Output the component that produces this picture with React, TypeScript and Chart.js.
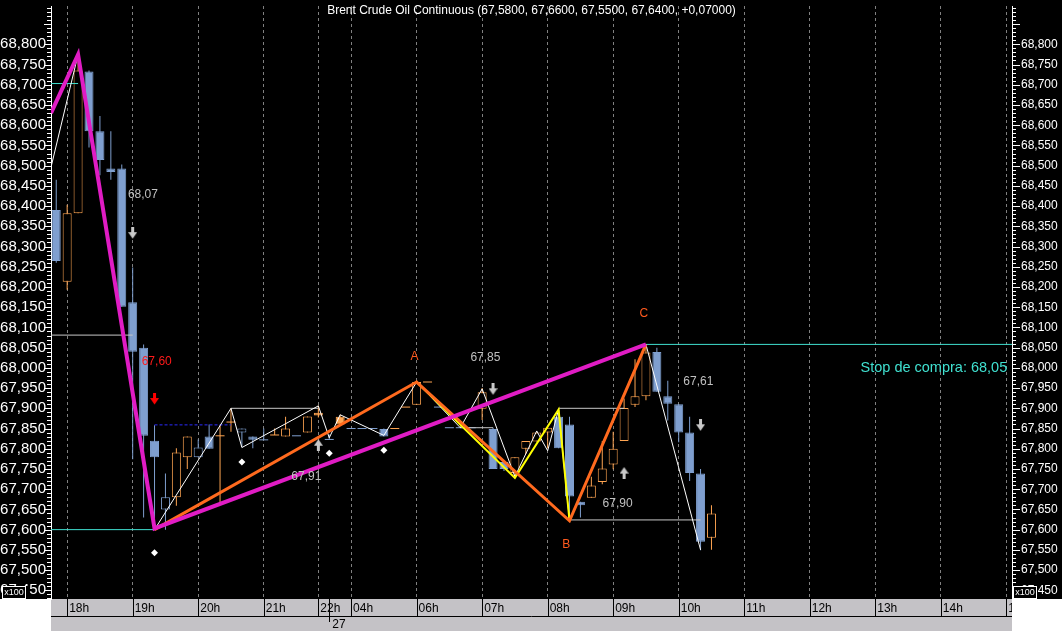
import React, { useEffect, useRef } from 'react';
import { Chart, registerables } from 'chart.js';

Chart.register(...registerables);

const SYMBOL = 'Brent Crude Oil Continuous';
const FONT = 'Liberation Sans';

// 10-minute bars, x = bar slot index
const opens = [68.39, 68.213, 68.382, 68.733, 68.585, 68.493, 68.493, 68.162, 68.05, 67.82,
  67.65, 67.68, 67.779, 67.779, 67.83, 67.832, 67.866, 67.84, 67.83, 67.822,
  67.834, 67.83, 67.832, 67.84, 67.889, 67.823, 67.879, 67.85, 67.85, 67.85,
  67.849, 67.85, 67.903, 67.909, 67.965, 67.903, 67.852, 67.852, 67.852, 67.899,
  67.849, 67.767, 67.74, 67.8, 67.818, 67.84, 67.879, 67.86, 67.669, 67.679,
  67.718, 67.761, 67.819, 67.909, 67.93, 68.039, 67.93, 67.91, 67.84, 67.739, 67.58];
const highs = [68.465, 68.403, 68.775, 68.735, 68.623, 68.585, 68.503, 68.248, 68.058, 67.858,
  67.739, 67.801, 67.83, 67.823, 67.86, 67.858, 67.9, 67.85, 67.83, 67.85,
  67.85, 67.879, 67.832, 67.88, 67.907, 67.835, 67.884, 67.85, 67.85, 67.85,
  67.85, 67.85, 67.903, 67.969, 67.965, 67.903, 67.852, 67.852, 67.852, 67.95,
  67.852, 67.767, 67.779, 67.819, 67.84, 67.852, 67.897, 67.879, 67.669, 67.731,
  67.819, 67.842, 67.924, 68.021, 68.058, 68.05, 67.968, 67.91, 67.879, 67.75, 67.66];
const lows = [68.26, 68.193, 68.382, 68.545, 68.476, 68.465, 68.151, 67.774, 67.63, 67.6,
  67.6, 67.659, 67.75, 67.779, 67.8, 67.665, 67.842, 67.805, 67.801, 67.822,
  67.834, 67.83, 67.832, 67.84, 67.877, 67.823, 67.858, 67.85, 67.85, 67.85,
  67.83, 67.85, 67.903, 67.909, 67.965, 67.903, 67.852, 67.852, 67.852, 67.871,
  67.75, 67.745, 67.73, 67.787, 67.818, 67.801, 67.801, 67.622, 67.63, 67.679,
  67.712, 67.749, 67.819, 67.903, 67.92, 67.941, 67.87, 67.816, 67.72, 67.549, 67.55];
const closes = [68.264, 68.382, 68.735, 68.585, 68.514, 68.484, 68.151, 68.04, 67.832, 67.779,
  67.68, 67.791, 67.83, 67.803, 67.8, 67.832, 67.866, 67.85, 67.822, 67.822,
  67.834, 67.85, 67.832, 67.88, 67.882, 67.823, 67.86, 67.85, 67.85, 67.85,
  67.83, 67.85, 67.903, 67.965, 67.965, 67.903, 67.852, 67.852, 67.852, 67.94,
  67.75, 67.75, 67.779, 67.819, 67.84, 67.852, 67.801, 67.682, 67.66, 67.709,
  67.751, 67.8, 67.901, 67.93, 68.038, 67.941, 67.911, 67.84, 67.74, 67.57, 67.64];

const X_MIN = -0.48;
const X_MAX = 87.52;
const Y_MIN = 67.4285;
const Y_MAX = 68.8947;

const hourTickPos = [1, 7, 13, 19, 24, 27, 33, 39, 45, 51, 57, 63, 69, 75, 81, 87];
const hourTickLabels = ['18h', '19h', '20h', '21h', '22h', '04h', '06h', '07h', '08h', '09h', '10h', '11h', '12h', '13h', '14h', '15h'];
const dayTickPos = [25];
const dayTickLabels = ['27'];

const yMajorTicks = [67.45, 67.5, 67.55, 67.6, 67.65, 67.7, 67.75, 67.8, 67.85, 67.9, 67.95, 68.0,
  68.05, 68.1, 68.15, 68.2, 68.25, 68.3, 68.35, 68.4, 68.45, 68.5, 68.55, 68.6, 68.65, 68.7, 68.75, 68.8];

// drawn studies
const magentaX = [-0.48, 2, 9, 54];
const magentaY = [68.63, 68.775, 67.603, 68.058];
const orangeX = [9, 33, 47, 54];
const orangeY = [67.6, 67.965, 67.622, 68.058];
const yellowX = [33, 42, 46, 47];
const yellowY = [67.965, 67.728, 67.897, 67.622];
const zigzagX = [-0.48, 2, 9, 16, 17, 24, 25, 26, 30, 33, 37, 39, 42, 44, 45, 46, 47, 54, 59];
const zigzagY = [68.496, 68.775, 67.6, 67.9, 67.803, 67.906, 67.827, 67.884, 67.833, 67.965, 67.852, 67.948, 67.731, 67.844, 67.795, 67.897, 67.622, 68.058, 67.55];

const grayLevelY = [68.081, 67.9, 67.852, 67.9, 67.624];
const grayLevelFrom = [-0.48, 16, 37, 46, 47];
const grayLevelTo = [7, 24, 40, 52, 59];
const cyanLevelY = [68.703, 67.6, 68.058];
const cyanLevelFrom = [-0.48, -0.48, 54];
const cyanLevelTo = [2, 9, 87.52];
const dashedLevelY = [67.859];
const dashedLevelFrom = [9];
const dashedLevelTo = [16];

const dotX = [9, 17, 25, 30];
const dotY = [67.543, 67.767, 67.789, 67.796];
const downArrowX = [7, 40, 59];
const downArrowY = [68.333, 67.947, 67.858];
const upArrowX = [24, 52];
const upArrowY = [67.81, 67.741];
const stopArrowX = [9];
const stopArrowY = [67.923];

const noteTexts = ['68,07', '67,91', '67,85', '67,90', '67,61'];
const noteX = [7.94, 22.9, 39.3, 51.4, 58.8];
const noteY = [68.427, 67.73, 68.024, 67.664, 67.967];
const stopNoteTexts = ['67,60'];
const stopNoteX = [9.2];
const stopNoteY = [68.015];
const waveTexts = ['A', 'B', 'C'];
const waveX = [32.8, 46.7, 53.8];
const waveY = [68.028, 67.563, 68.133];
const stopBuyText = ['Stop de compra: 68,05'];
const stopBuyX = [73.65];
const stopBuyY = [67.999];

const ORANGE = '#ffa552';
const BLUE = '#7f9fcf';

function fmt(v: number, d: number) {
  return v.toFixed(d).replace('.', ',');
}

function makeArrow(color: string, up: boolean) {
  const c = document.createElement('canvas');
  c.width = 9;
  c.height = 12;
  const g = c.getContext('2d')!;
  g.fillStyle = color;
  g.beginPath();
  if (!up) {
    g.fillRect(3, 0, 3, 6);
    g.moveTo(0, 5); g.lineTo(9, 5); g.lineTo(4.5, 11.5);
  } else {
    g.fillRect(3, 6, 3, 6);
    g.moveTo(0, 7); g.lineTo(9, 7); g.lineTo(4.5, 0.5);
  }
  g.closePath();
  g.fill();
  return c;
}

function seg(xs: number[], ys: number[]) {
  return xs.map((x, i) => ({ x, y: ys[i] }));
}

export default function App() {
  const ref = useRef<HTMLCanvasElement>(null);

  useEffect(() => {
    document.body.style.margin = '0';
    const canvas = ref.current!;
    const n = closes.length;
    const colors: string[] = [];
    for (let i = 0; i < n; i++) {
      let up: boolean;
      if (i === 0) up = closes[i] >= opens[i];
      else if (closes[i] > closes[i - 1]) up = true;
      else if (closes[i] < closes[i - 1]) up = false;
      else up = colors[i - 1] === ORANGE;
      colors.push(up ? ORANGE : BLUE);
    }
    const idx = closes.map((_, i) => i);
    const bodyIdx = idx.filter((i) => opens[i] !== closes[i]);
    const dojiIdx = idx.filter((i) => opens[i] === closes[i]);

    const levelSets = (ys: number[], from: number[], to: number[], color: string, order: number, dash: number[] = []) =>
      ys.map((y, i) => ({
        type: 'line' as const,
        data: [{ x: from[i], y }, { x: to[i], y }],
        borderColor: color,
        borderWidth: 1,
        borderDash: dash,
        pointRadius: 0,
        order,
      }));

    const arrowDown = makeArrow('#c8c8c8', false);
    const arrowUp = makeArrow('#c8c8c8', true);
    const arrowRed = makeArrow('#ff0000', false);

    const decorPlugin = {
      id: 'decor',
      beforeDraw(chart: any) {
        const { ctx, chartArea: a, width, height } = chart;
        ctx.save();
        ctx.fillStyle = '#000';
        ctx.fillRect(0, 0, width, a.bottom);
        ctx.fillStyle = '#fff';
        ctx.fillRect(0, a.bottom, width, height - a.bottom);
        ctx.fillStyle = '#c4c2c6';
        ctx.fillRect(a.left, a.bottom, a.right - a.left, height - a.bottom);
        ctx.restore();
      },
      afterDatasetsDraw(chart: any) {
        const { ctx } = chart;
        const xs = chart.scales.x;
        const ys = chart.scales.y;
        ctx.save();
        ctx.textBaseline = 'middle';
        ctx.textAlign = 'center';
        ctx.font = `12px "${FONT}"`;
        ctx.fillStyle = '#c0c0c0';
        noteTexts.forEach((t, i) => ctx.fillText(t, xs.getPixelForValue(noteX[i]), ys.getPixelForValue(noteY[i])));
        ctx.fillStyle = '#ff1a1a';
        stopNoteTexts.forEach((t, i) => ctx.fillText(t, xs.getPixelForValue(stopNoteX[i]), ys.getPixelForValue(stopNoteY[i])));
        ctx.fillStyle = '#ff5a1e';
        waveTexts.forEach((t, i) => ctx.fillText(t, xs.getPixelForValue(waveX[i]), ys.getPixelForValue(waveY[i])));
        ctx.fillStyle = '#40e0d0';
        ctx.textAlign = 'left';
        ctx.font = `14.5px "${FONT}"`;
        stopBuyText.forEach((t, i) => ctx.fillText(t, xs.getPixelForValue(stopBuyX[i]), ys.getPixelForValue(stopBuyY[i])));
        // title
        const last = n - 1;
        const chg = closes[last] - closes[last - 1];
        const title = `${SYMBOL} (${fmt(opens[last], 4)}, ${fmt(highs[last], 4)}, ${fmt(lows[last], 4)}, ${fmt(closes[last], 4)}, ${chg >= 0 ? '+' : ''}${fmt(chg, 5)})`;
        const a = chart.chartArea;
        ctx.font = `12px "${FONT}"`;
        ctx.fillStyle = '#ffffff';
        ctx.textAlign = 'center';
        ctx.fillText(title, (a.left + a.right) / 2, 11);
        ctx.restore();
      },
      afterDraw(chart: any) {
        const { ctx, chartArea: a, width, height } = chart;
        const xs = chart.scales.x;
        const ys = chart.scales.y;
        ctx.save();
        // bottom band ticks
        ctx.strokeStyle = '#000';
        ctx.lineWidth = 1;
        ctx.beginPath();
        ctx.moveTo(a.left, 616.5);
        ctx.lineTo(a.right, 616.5);
        hourTickPos.forEach((v) => {
          const x = Math.round(xs.getPixelForValue(v)) + 0.5;
          ctx.moveTo(x, a.bottom);
          ctx.lineTo(x, 616);
        });
        dayTickPos.forEach((v) => {
          const x = Math.round(xs.getPixelForValue(v)) + 0.5;
          ctx.moveTo(x, a.bottom);
          ctx.lineTo(x, 622);
        });
        ctx.stroke();
        ctx.fillStyle = '#000';
        ctx.font = `12px "${FONT}"`;
        ctx.textBaseline = 'middle';
        ctx.textAlign = 'left';
        dayTickPos.forEach((v, i) => ctx.fillText(dayTickLabels[i], xs.getPixelForValue(v) + 3, 625));
        // white corners
        ctx.fillStyle = '#fff';
        ctx.fillRect(a.right, a.bottom, width - a.right, height - a.bottom);
        ctx.fillRect(0, a.bottom, a.left, height - a.bottom);
        // y ticks (0.01 minor, 0.05 major)
        ctx.strokeStyle = '#fff';
        ctx.beginPath();
        for (let k = 0; ; k++) {
          const v = 67.43 + k * 0.01;
          if (v > Y_MAX) break;
          const y = Math.round(ys.getPixelForValue(v)) + 0.5;
          const major = Math.round(v * 100) % 5 === 0;
          ctx.moveTo(a.left - (major ? 7 : 4), y);
          ctx.lineTo(a.left, y);
          ctx.moveTo(a.right, y);
          ctx.lineTo(a.right + (major ? 8 : 4), y);
        }
        ctx.stroke();
        // x100 boxes
        const box = (x0: number, y0: number, cover: number) => {
          ctx.fillStyle = '#000';
          ctx.fillRect(x0, y0, cover, 13);
          ctx.strokeStyle = '#fff';
          ctx.strokeRect(x0 + 0.5, y0 + 0.5, 23, 12);
          ctx.fillStyle = '#fff';
          ctx.font = `9px "${FONT}"`;
          ctx.textAlign = 'center';
          ctx.fillText('x100', x0 + 12, y0 + 7);
        };
        box(2, 586, 27);
        box(1013, 586, 25);
        ctx.restore();
      },
    };

    const chart = new Chart(canvas, {
      type: 'bar',
      data: {
        datasets: [
          {
            type: 'bar',
            data: idx.map((i) => ({ x: i, y: [lows[i], highs[i]] })) as any,
            backgroundColor: idx.map((i) => colors[i]),
            borderWidth: 0,
            barThickness: 1,
            grouped: false,
            inflateAmount: 0,
            order: 100,
          } as any,
          {
            type: 'bar',
            data: bodyIdx.map((i) => ({ x: i, y: [opens[i], closes[i]] })) as any,
            backgroundColor: bodyIdx.map((i) => (closes[i] > opens[i] ? '#000' : colors[i])),
            borderColor: bodyIdx.map((i) => colors[i]),
            borderWidth: 1,
            borderSkipped: false,
            barThickness: 9,
            grouped: false,
            inflateAmount: 0,
            order: 90,
          } as any,
          {
            type: 'scatter',
            data: dojiIdx.map((i) => ({ x: i, y: closes[i] })),
            pointStyle: 'line',
            pointRadius: 4.5,
            borderWidth: 1,
            pointBorderColor: dojiIdx.map((i) => colors[i]),
            borderColor: dojiIdx.map((i) => colors[i]),
            order: 89,
          } as any,
          ...levelSets(grayLevelY, grayLevelFrom, grayLevelTo, '#c8c8c8', 80),
          ...levelSets(dashedLevelY, dashedLevelFrom, dashedLevelTo, '#2a2aff', 79, [3, 2]),
          ...levelSets(cyanLevelY, cyanLevelFrom, cyanLevelTo, '#40e0d0', 78),
          {
            type: 'line',
            data: seg(zigzagX, zigzagY),
            borderColor: '#ffffff',
            borderWidth: 1,
            pointRadius: 0,
            tension: 0,
            order: 70,
          },
          {
            type: 'scatter',
            data: seg(dotX, dotY),
            pointStyle: 'rectRot',
            pointRadius: 3.5,
            backgroundColor: '#ffffff',
            borderWidth: 0,
            order: 69,
          } as any,
          {
            type: 'line',
            data: seg(yellowX, yellowY),
            borderColor: '#ffff00',
            borderWidth: 2,
            pointRadius: 0,
            order: 60,
          },
          {
            type: 'line',
            data: seg(orangeX, orangeY),
            borderColor: '#ff6a1e',
            borderWidth: 3,
            pointRadius: 0,
            order: 50,
          },
          {
            type: 'line',
            data: seg(magentaX, magentaY),
            borderColor: '#e01cc4',
            borderWidth: 4,
            pointRadius: 0,
            order: 40,
          },
          {
            type: 'scatter',
            data: seg(downArrowX, downArrowY),
            pointStyle: arrowDown,
            pointRadius: 5,
            order: 30,
          } as any,
          {
            type: 'scatter',
            data: seg(upArrowX, upArrowY),
            pointStyle: arrowUp,
            pointRadius: 5,
            order: 30,
          } as any,
          {
            type: 'scatter',
            data: seg(stopArrowX, stopArrowY),
            pointStyle: arrowRed,
            pointRadius: 5,
            order: 30,
          } as any,
        ],
      },
      options: {
        responsive: false,
        animation: false,
        devicePixelRatio: 1,
        events: [],
        layout: { padding: 0 },
        plugins: { legend: { display: false }, tooltip: { enabled: false }, title: { display: false } },
        scales: {
          x: {
            type: 'linear',
            min: X_MIN,
            max: X_MAX,
            bounds: 'data',
            offset: false,
            afterBuildTicks: (s: any) => {
              s.ticks = hourTickPos.map((v) => ({ value: v }));
            },
            afterFit: (s: any) => {
              s.height = 32;
              s.paddingLeft = 0;
              s.paddingRight = 0;
            },
            ticks: {
              autoSkip: false,
              maxRotation: 0,
              minRotation: 0,
              align: 'start',
              labelOffset: 2,
              padding: 2,
              color: '#000',
              font: { family: FONT, size: 12 },
              callback: (_v: any, i: number) => hourTickLabels[i],
            },
            grid: { display: true, drawOnChartArea: true, drawTicks: false, color: '#808080', lineWidth: 1, offset: false },
            border: { display: false, dash: [3, 3] },
          } as any,
          y: {
            type: 'linear',
            position: 'left',
            min: Y_MIN,
            max: Y_MAX,
            bounds: 'data',
            afterBuildTicks: (s: any) => {
              s.ticks = yMajorTicks.map((v) => ({ value: v }));
            },
            afterFit: (s: any) => {
              s.width = 51;
              s.paddingTop = 0;
              s.paddingBottom = 0;
            },
            ticks: {
              autoSkip: false,
              color: '#ffffff',
              padding: 5,
              font: { family: FONT, size: 15 },
              callback: (v: any) => fmt(Number(v), 3),
            },
            grid: { display: false, drawTicks: false },
            border: { display: true, color: '#ffffff', width: 1 },
          } as any,
          y2: {
            type: 'linear',
            position: 'right',
            min: Y_MIN,
            max: Y_MAX,
            bounds: 'data',
            afterBuildTicks: (s: any) => {
              s.ticks = yMajorTicks.map((v) => ({ value: v }));
            },
            afterFit: (s: any) => {
              s.width = 50;
              s.paddingTop = 0;
              s.paddingBottom = 0;
            },
            ticks: {
              autoSkip: false,
              color: '#ffffff',
              padding: 9,
              font: { family: FONT, size: 12 },
              callback: (v: any) => fmt(Number(v), 3),
            },
            grid: { display: false, drawTicks: false },
            border: { display: true, color: '#ffffff', width: 1 },
          } as any,
        },
      },
      plugins: [decorPlugin],
    });
    return () => chart.destroy();
  }, []);

  return (
    <div style={{ position: 'fixed', left: 0, top: 0, width: 1062, height: 631 }}>
      <canvas ref={ref} width={1062} height={631} style={{ display: 'block', width: 1062, height: 631 }} />
    </div>
  );
}
